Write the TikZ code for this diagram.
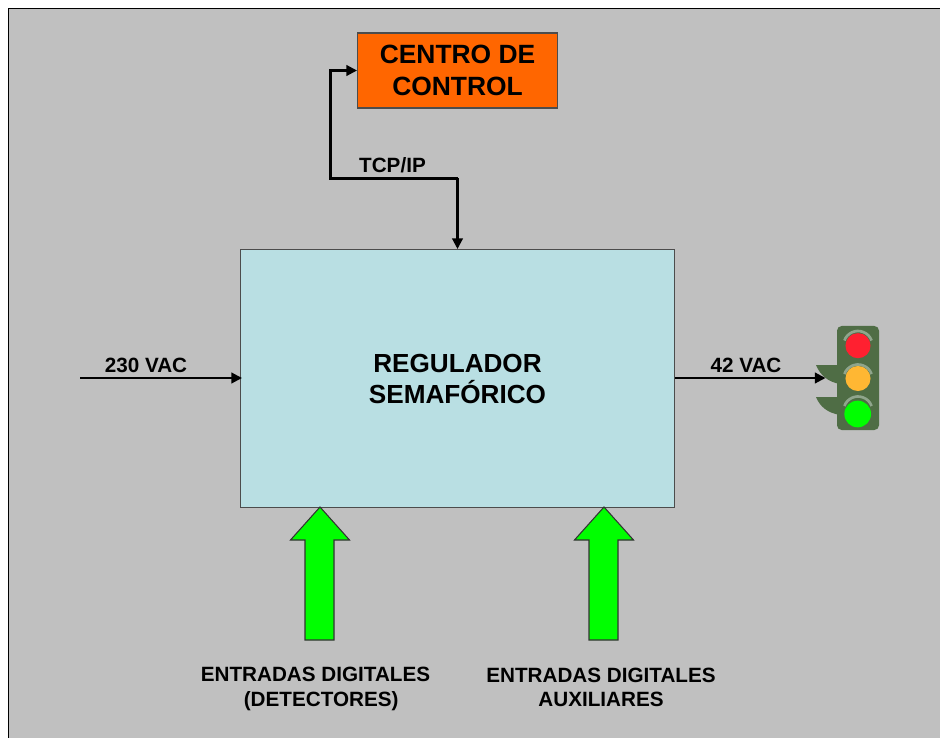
\documentclass[tikz,border=0pt]{standalone}
\usepackage{fontspec}
\setmainfont{Liberation Sans}
\usetikzlibrary{arrows.meta}
\definecolor{bggray}{HTML}{C0C0C0}
\definecolor{regbox}{HTML}{B9DFE3}
\definecolor{ctrlbox}{HTML}{FF6600}
\definecolor{lightbody}{HTML}{4F6D45}
\definecolor{lightarc}{HTML}{8FA58C}
\definecolor{redlamp}{HTML}{FF2030}
\definecolor{amberlamp}{HTML}{FFB733}
\tikzset{
  wire/.style={draw=black,line width=1.6pt,-{Triangle[length=8pt,width=8pt]}},
  boxstyle/.style={draw=black!70,line width=0.8pt,inner sep=0pt,align=center,font=\bfseries},
  biglabel/.style={font=\bfseries\fontsize{19.6pt}{23.5pt}\selectfont,align=center,inner sep=0pt},
  smalllabel/.style={font=\bfseries\fontsize{15.5pt}{18.5pt}\selectfont,align=center,inner sep=0pt},
  greenarrow/.style={draw=black!80,line width=0.8pt,fill=green},
  lamparc/.style={draw=lightarc,line width=2pt}
}
\begin{document}
\begin{tikzpicture}[x=0.75pt,y=-0.75pt]
\useasboundingbox (0,0) rectangle (940,738);
\fill[white] (0,0) rectangle (940,738);
\fill[bggray] (8.5,8.5) rectangle (940,738);
\draw[black,line width=0.9pt] (8.5,738) -- (8.5,8.5) -- (940,8.5);
% boxes
\node[boxstyle,fill=regbox,minimum width=325.5pt,minimum height=193.2pt,anchor=north west] (reg) at (240,249) {};
\node[biglabel] (regtxt) at (457.5,379) {REGULADOR\\SEMAFÓRICO};
\node[boxstyle,fill=ctrlbox,minimum width=150pt,minimum height=56.25pt,anchor=north west,
  font=\bfseries\fontsize{19.8pt}{23.5pt}\selectfont] (ctrl) at (357,32.5) {CENTRO DE\\CONTROL};
% connectors
\coordinate (tcpA) at (457.5,178.5);
\coordinate (tcpB) at (330.5,178.5);
\coordinate (tcpC) at (330.5,70.5);
\draw[wire] (tcpA) -- (tcpB) -- (tcpC) -- (tcpC -| ctrl.west);
\draw[wire] (tcpA) -- (tcpA |- reg.north);
\coordinate (inL) at (80,378);
\coordinate (outR) at (825.5,378);
\coordinate (inR) at (242,378);
\draw[wire] (inL) -- (inR);
\node[smalllabel] (l230) at (146,365) {230 VAC};
\node[smalllabel] (l42) at (746,365) {42 VAC};
\node[smalllabel] (ltcp) at (392.5,165) {TCP/IP};
% green arrows
\draw[greenarrow] (305,640) -- (305,540) -- (290.5,540) -- (320,507) -- (349.5,540) -- (334,540) -- (334,640) -- cycle;
\draw[greenarrow] (589,640) -- (589,540) -- (574.5,540) -- (604,507) -- (633.5,540) -- (618,540) -- (618,640) -- cycle;
\node[smalllabel] (ent1) at (315.5,689) {ENTRADAS DIGITALES\\\hspace*{8.5pt}(DETECTORES)};
\node[smalllabel] (ent2) at (601,687.5) {ENTRADAS DIGITALES\\AUXILIARES};
% traffic light
\fill[lightbody] (816,365) -- (840,365) -- (840,384) .. controls (828,382) and (820,375) .. (816,365) -- cycle;
\fill[lightbody] (816,397) -- (840,397) -- (840,415) .. controls (828,413) and (820,407) .. (816,397) -- cycle;
\fill[lightbody,rounded corners=3.5pt] (837,326) rectangle (879,430);
\draw[lamparc] (858,345.5) ++(200:14.5) arc[start angle=200,end angle=340,radius=14.5];
\draw[lamparc] (858,379) ++(200:14.5) arc[start angle=200,end angle=340,radius=14.5];
\draw[lamparc] (858,411) ++(200:14.5) arc[start angle=200,end angle=340,radius=14.5];
\fill[redlamp] (858,345.7) circle[radius=9.4pt];
\fill[amberlamp] (858,378.5) circle[radius=9.4pt];
\fill[green] (857.7,414) circle[radius=10pt];
\draw[wire] (reg.east |- outR) -- (outR);
\end{tikzpicture}
\end{document}
